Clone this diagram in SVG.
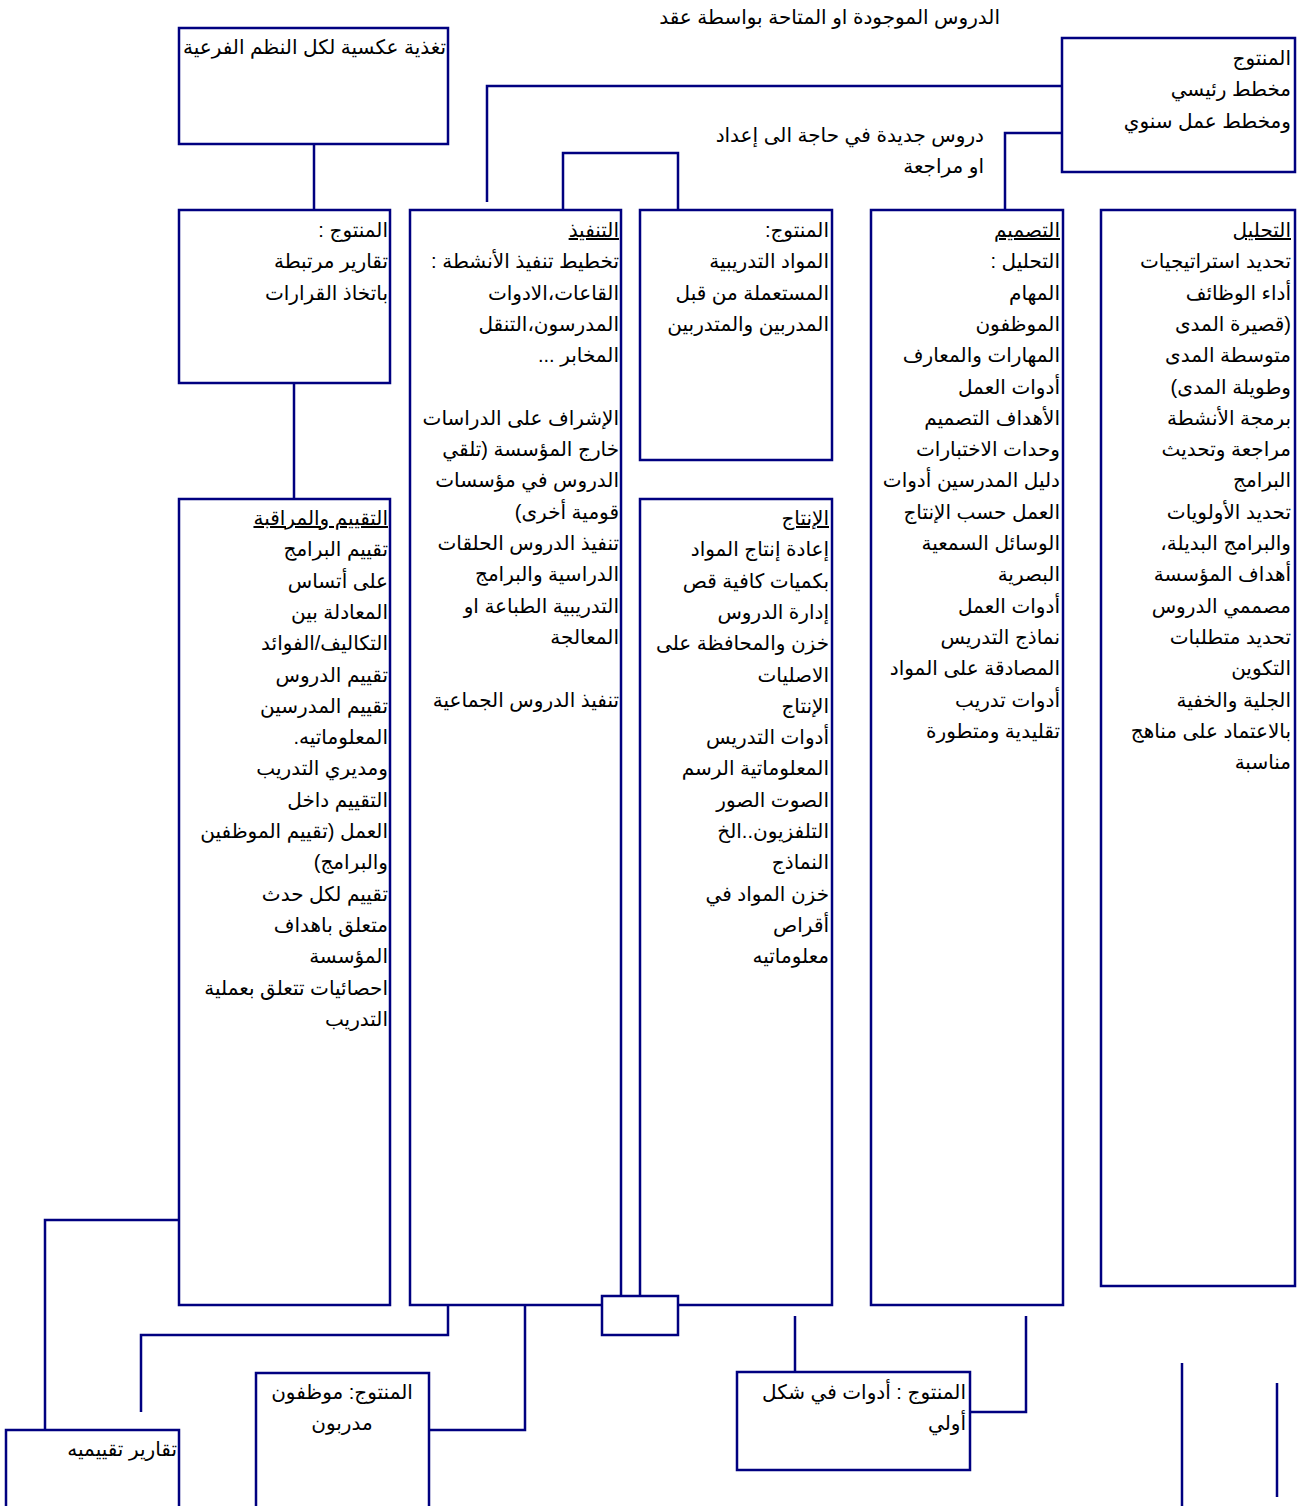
<svg xmlns="http://www.w3.org/2000/svg" width="1299" height="1506" viewBox="0 0 1299 1506">
<style>
.b{fill:#fff;stroke:#000080;stroke-width:2.5}
.c{fill:none;stroke:#000080;stroke-width:2.5}
text{font-family:"Liberation Sans","DejaVu Sans",sans-serif;font-size:20px;fill:#000;direction:rtl;unicode-bidi:embed}
.r{text-anchor:start}
.m{text-anchor:middle}
.u{text-decoration:underline}
</style>
<rect width="1299" height="1506" fill="#fff"/>
<g id="connectors">
<polyline class="c" points="1062,86 487,86 487,202"/>
<polyline class="c" points="1062,133 1005,133 1005,210"/>
<polyline class="c" points="563,210 563,153 678,153 678,210"/>
<line class="c" x1="314" y1="144" x2="314" y2="210"/>
<line class="c" x1="294" y1="383" x2="294" y2="499"/>
<polyline class="c" points="179,1220 45,1220 45,1430"/>
<polyline class="c" points="448,1297 448,1335 141,1335 141,1412"/>
<polyline class="c" points="525,1297 525,1430 429,1430"/>
<line class="c" x1="795" y1="1316" x2="795" y2="1372"/>
<polyline class="c" points="1026,1316 1026,1412 970,1412"/>
<line class="c" x1="1182" y1="1363" x2="1182" y2="1506"/>
<line class="c" x1="1277" y1="1383" x2="1277" y2="1497"/>
</g>
<g id="label-contracts">
<text class="r" x="1000" y="24">الدروس الموجودة او المتاحة بواسطة عقد</text>
</g>
<g id="label-new">
<text class="r" x="984" y="142">دروس جديدة في حاجة الى إعداد</text>
<text class="r" x="984" y="173">او مراجعة</text>
</g>
<g id="feedback">
<rect class="b" x="179" y="28" width="269" height="116"/>
<text class="r" x="446" y="54">تغذية عكسية لكل النظم الفرعية</text>
</g>
<g id="plan">
<rect class="b" x="1062" y="38" width="233" height="134"/>
<text class="r" x="1291" y="65">المنتوج</text>
<text class="r" x="1291" y="96">مخطط رئيسي</text>
<text class="r" x="1291" y="128">ومخطط عمل سنوي</text>
</g>
<g id="analysis">
<rect class="b" x="1101" y="210" width="194" height="1076"/>
<text class="r u" x="1291" y="237">التحليل</text>
<text class="r" x="1291" y="268.3">تحديد استراتيجيات</text>
<text class="r" x="1291" y="299.6">أداء الوظائف</text>
<text class="r" x="1291" y="330.9">(قصيرة المدى</text>
<text class="r" x="1291" y="362.2">متوسطة المدى</text>
<text class="r" x="1291" y="393.5">وطويلة المدى)</text>
<text class="r" x="1291" y="424.8">برمجة الأنشطة</text>
<text class="r" x="1291" y="456.1">مراجعة وتحديث</text>
<text class="r" x="1291" y="487.4">البرامج</text>
<text class="r" x="1291" y="518.7">تحديد الأولويات</text>
<text class="r" x="1291" y="550">والبرامج البديلة،</text>
<text class="r" x="1291" y="581.3">أهداف المؤسسة</text>
<text class="r" x="1291" y="612.6">مصممي الدروس</text>
<text class="r" x="1291" y="643.9">تحديد متطلبات</text>
<text class="r" x="1291" y="675.2">التكوين</text>
<text class="r" x="1291" y="706.5">الجلية والخفية</text>
<text class="r" x="1291" y="737.8">بالاعتماد على مناهج</text>
<text class="r" x="1291" y="769.1">مناسبة</text>
</g>
<g id="design">
<rect class="b" x="871" y="210" width="192" height="1095"/>
<text class="r u" x="1060" y="237">التصميم</text>
<text class="r" x="1060" y="268.3">التحليل :</text>
<text class="r" x="1060" y="299.6">المهام</text>
<text class="r" x="1060" y="330.9">الموظفون</text>
<text class="r" x="1060" y="362.2">المهارات والمعارف</text>
<text class="r" x="1060" y="393.5">أدوات العمل</text>
<text class="r" x="1060" y="424.8">الأهداف التصميم</text>
<text class="r" x="1060" y="456.1">وحدات الاختبارات</text>
<text class="r" x="1060" y="487.4">دليل المدرسين أدوات</text>
<text class="r" x="1060" y="518.7">العمل حسب الإنتاج</text>
<text class="r" x="1060" y="550">الوسائل السمعية</text>
<text class="r" x="1060" y="581.3">البصرية</text>
<text class="r" x="1060" y="612.6">أدوات العمل</text>
<text class="r" x="1060" y="643.9">نماذج التدريس</text>
<text class="r" x="1060" y="675.2">المصادقة على المواد</text>
<text class="r" x="1060" y="706.5">أدوات تدريب</text>
<text class="r" x="1060" y="737.8">تقليدية ومتطورة</text>
</g>
<g id="materials">
<rect class="b" x="640" y="210" width="192" height="250"/>
<text class="r" x="829" y="237">المنتوج:</text>
<text class="r" x="829" y="268.3">المواد التدريبية</text>
<text class="r" x="829" y="299.6">المستعملة من قبل</text>
<text class="r" x="829" y="330.9">المدربين والمتدربين</text>
</g>
<g id="implementation">
<rect class="b" x="410" y="210" width="211" height="1095"/>
<text class="r u" x="619" y="237">التنفيذ</text>
<text class="r" x="619" y="268.3">تخطيط تنفيذ الأنشطة :</text>
<text class="r" x="619" y="299.6">القاعات،الادوات</text>
<text class="r" x="619" y="330.9">المدرسون،التنقل</text>
<text class="r" x="619" y="362.2">المخابر ...</text>
<text class="r" x="619" y="424.8">الإشراف على الدراسات</text>
<text class="r" x="619" y="456.1">خارج المؤسسة (تلقي</text>
<text class="r" x="619" y="487.4">الدروس في مؤسسات</text>
<text class="r" x="619" y="518.7">قومية أخرى)</text>
<text class="r" x="619" y="550">تنفيذ الدروس الحلقات</text>
<text class="r" x="619" y="581.3">الدراسية والبرامج</text>
<text class="r" x="619" y="612.6">التدريبية الطباعة او</text>
<text class="r" x="619" y="643.9">المعالجة</text>
<text class="r" x="619" y="706.5">تنفيذ الدروس الجماعية</text>
</g>
<g id="reports">
<rect class="b" x="179" y="210" width="211" height="173"/>
<text class="r" x="388" y="237">المنتوج :</text>
<text class="r" x="388" y="268.3">تقارير مرتبطة</text>
<text class="r" x="388" y="299.6">باتخاذ القرارات</text>
</g>
<g id="evaluation">
<rect class="b" x="179" y="499" width="211" height="806"/>
<text class="r u" x="388" y="525">التقييم والمراقبة</text>
<text class="r" x="388" y="556.3">تقييم البرامج</text>
<text class="r" x="388" y="587.6"> على أتساس</text>
<text class="r" x="388" y="618.9">المعادلة بين</text>
<text class="r" x="388" y="650.2">التكاليف/الفوائد</text>
<text class="r" x="388" y="681.5">تقييم الدروس</text>
<text class="r" x="388" y="712.8">تقييم المدرسين</text>
<text class="r" x="388" y="744.1">المعلوماتيه.</text>
<text class="r" x="388" y="775.4">ومديري التدريب</text>
<text class="r" x="388" y="806.7">التقييم داخل</text>
<text class="r" x="388" y="838">العمل (تقييم الموظفين</text>
<text class="r" x="388" y="869.3">والبرامج)</text>
<text class="r" x="388" y="900.6">تقييم لكل حدث</text>
<text class="r" x="388" y="931.9">متعلق باهداف</text>
<text class="r" x="388" y="963.2">المؤسسة</text>
<text class="r" x="388" y="994.5">احصائيات تتعلق بعملية</text>
<text class="r" x="388" y="1025.8">التدريب</text>
</g>
<g id="production">
<rect class="b" x="640" y="499" width="192" height="806"/>
<text class="r u" x="829" y="525">الإنتاج</text>
<text class="r" x="829" y="556.3">إعادة إنتاج المواد</text>
<text class="r" x="829" y="587.6">بكميات كافية قص</text>
<text class="r" x="829" y="618.9">إدارة الدروس</text>
<text class="r" x="829" y="650.2">خزن والمحافظة على</text>
<text class="r" x="829" y="681.5">الاصليات</text>
<text class="r" x="829" y="712.8">الإنتاج</text>
<text class="r" x="829" y="744.1">أدوات التدريس</text>
<text class="r" x="829" y="775.4">المعلوماتية الرسم</text>
<text class="r" x="829" y="806.7">الصوت الصور</text>
<text class="r" x="829" y="838">التلفزيون..الخ</text>
<text class="r" x="829" y="869.3">النماذج</text>
<text class="r" x="829" y="900.6">خزن المواد في</text>
<text class="r" x="829" y="931.9">أقراص</text>
<text class="r" x="829" y="963.2">معلوماتيه</text>
</g>
<g id="junction">
<rect class="b" x="602" y="1296" width="76" height="39"/>
</g>
<g id="eval-reports">
<rect class="b" x="6" y="1430" width="173" height="90"/>
<text class="r" x="177" y="1456">تقارير تقييميه</text>
</g>
<g id="trained-staff">
<rect class="b" x="256" y="1373" width="173" height="150"/>
<text class="m" x="342" y="1399">المنتوج: موظفون</text>
<text class="m" x="342" y="1430">مدربون</text>
</g>
<g id="tools">
<rect class="b" x="737" y="1372" width="233" height="98"/>
<text class="r" x="966" y="1399">المنتوج : أدوات في شكل</text>
<text class="r" x="966" y="1430">أولي</text>
</g>
</svg>
